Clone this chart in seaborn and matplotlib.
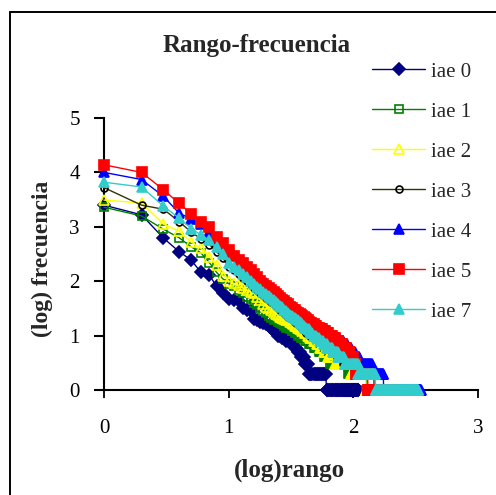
import numpy as np
import pandas as pd
import matplotlib
matplotlib.use("Agg")
import matplotlib.pyplot as plt
import seaborn as sns
from matplotlib.lines import Line2D

sns.set_style("ticks")
plt.rcParams['font.family'] = ['Liberation Serif', 'DejaVu Serif']

series_names = ["iae 0", "iae 1", "iae 2", "iae 3", "iae 4", "iae 5", "iae 7"]
x_ticks = [0, 1, 2, 3]
y_ticks = [0, 1, 2, 3, 4, 5]

# word frequencies of the top-ranked words (rank 1, 2, 3, ...)
# followed by the remaining ranks as (frequency, number of words) runs
iae0_head = [2500, 1660, 620, 350, 245, 145, 130, 80, 60, 47, 45, 43, 32, 30, 28,
             20, 19, 18, 17, 16, 15, 14, 12, 11, 10, 10, 9, 9, 8, 8, 8, 7, 7]
iae0_tail_freq = [6, 5, 4, 3, 2, 1]
iae0_tail_count = [2, 2, 3, 3, 17, 50]

iae1_head = [2290, 1580, 900, 630, 430, 330, 220, 145, 110, 90, 80, 69, 60, 52, 47,
             40, 36, 32, 28, 26, 23, 21, 19, 19, 18, 17, 16, 15, 14, 14]
iae1_tail_freq = [13, 12, 11, 10, 9, 8, 7, 6, 5, 4, 3, 2, 1]
iae1_tail_count = [1, 2, 2, 2, 3, 3, 4, 5, 5, 7, 26, 36, 104]

iae2_head = [3100, 2750, 1120, 830, 525, 400, 280, 200, 126, 100, 91, 85, 76, 69, 63,
             60, 52, 45, 38, 34, 32, 29, 27, 25, 24, 22, 21, 20, 19, 19, 18, 17, 16, 15, 15]
iae2_tail_freq = [14, 13, 12, 11, 10, 9, 8, 7, 6, 5, 4, 3, 2, 1]
iae2_tail_count = [1, 2, 2, 2, 2, 3, 3, 3, 4, 5, 8, 24, 31, 85]

iae3_head = [5250, 2500, 2100, 1250, 800, 600, 470, 350, 265, 185, 160, 135, 115, 100,
             87, 76, 68, 61, 55, 50, 46, 42, 39, 35, 33, 30, 28, 26, 24, 22, 21, 20, 19,
             18, 17, 16, 15, 15, 14, 13, 12]
iae3_tail_freq = [11, 10, 9, 8, 7, 6, 5, 4, 3, 2, 1]
iae3_tail_count = [3, 3, 4, 4, 5, 6, 7, 9, 24, 40, 90]

iae4_head = [10000, 7400, 3630, 1780, 1400, 1120, 800, 560, 430, 350, 300, 260, 228, 196,
             170, 150, 132, 115, 102, 92, 83, 76, 69, 64, 59, 55, 51, 48, 45, 42, 39, 36,
             34, 32, 30, 29, 27, 26, 24, 23, 22, 21, 20, 19, 18, 18, 17, 17, 16, 16, 15,
             15, 15, 14, 14]
iae4_tail_freq = [13, 12, 11, 10, 9, 8, 7, 6, 5, 4, 3, 2, 1]
iae4_tail_count = [2, 4, 4, 6, 6, 6, 6, 6, 8, 9, 29, 33, 173]

iae5_head = [13800, 10000, 4800, 2700, 1740, 1230, 1000, 660, 500, 380, 290, 245, 220,
             186, 158, 138, 117, 102, 89, 80, 74, 68, 63, 58, 53, 49, 46, 43, 40, 38, 34,
             32, 30, 29, 27, 26, 25, 24, 23, 22, 21, 20, 19, 18, 17, 17, 16, 16, 15, 15]
iae5_tail_freq = [14, 13, 12, 11, 10, 9, 8, 7, 6, 5, 4, 3, 2, 1]
iae5_tail_count = [3, 3, 3, 4, 4, 4, 5, 5, 6, 6, 6, 5, 26, 70]

iae7_head = [6600, 5400, 2400, 1450, 930, 710, 560, 420, 316, 214, 186, 158, 135, 117,
             102, 89, 79, 71, 64, 58, 53, 49, 45, 41, 38, 35, 33, 30, 28, 26, 24, 23, 22,
             21, 20, 19, 18, 17, 16, 15, 14, 14, 13, 13, 12]
iae7_tail_freq = [11, 10, 9, 8, 7, 6, 5, 4, 3, 2, 1]
iae7_tail_count = [2, 3, 3, 4, 4, 7, 7, 9, 25, 41, 181]

raw = {
    "iae 0": (iae0_head, iae0_tail_freq, iae0_tail_count),
    "iae 1": (iae1_head, iae1_tail_freq, iae1_tail_count),
    "iae 2": (iae2_head, iae2_tail_freq, iae2_tail_count),
    "iae 3": (iae3_head, iae3_tail_freq, iae3_tail_count),
    "iae 4": (iae4_head, iae4_tail_freq, iae4_tail_count),
    "iae 5": (iae5_head, iae5_tail_freq, iae5_tail_count),
    "iae 7": (iae7_head, iae7_tail_freq, iae7_tail_count),
}

frames = []
for name in series_names:
    head, tf, tc = raw[name]
    freqs = list(head)
    for f, n in zip(tf, tc):
        freqs.extend([f] * n)
    freqs = np.asarray(freqs, dtype=float)
    ranks = np.arange(1, len(freqs) + 1)
    frames.append(pd.DataFrame({"serie": name,
                                "logrango": np.log10(ranks),
                                "logfrec": np.log10(freqs)}))
df = pd.concat(frames, ignore_index=True)

styles = {
    "iae 0": dict(color="#000080", marker="D", markersize=6.5, markerfacecolor="#000080", markeredgecolor="#000080"),
    "iae 1": dict(color="#008000", marker="s", markersize=6.3, markerfacecolor="none", markeredgecolor="#008000"),
    "iae 2": dict(color="#FFFF00", marker="^", markersize=7.5, markerfacecolor="none", markeredgecolor="#FFFF00"),
    "iae 3": dict(color="#333300", marker="o", markersize=5.0, markerfacecolor="none", markeredgecolor="#000000"),
    "iae 4": dict(color="#0000FF", marker="^", markersize=7.8, markerfacecolor="#0000FF", markeredgecolor="#0000FF"),
    "iae 5": dict(color="#FF0000", marker="s", markersize=6.8, markerfacecolor="#FF0000", markeredgecolor="#FF0000"),
    "iae 7": dict(color="#33CCCC", marker="^", markersize=7.8, markerfacecolor="#33CCCC", markeredgecolor="#33CCCC"),
}

fig = plt.figure(figsize=(4.96, 4.95), dpi=100)
ax = fig.add_axes([104 / 496, 1 - 390 / 495, 374 / 496, 272 / 495])

for name in series_names:
    sub = df[df["serie"] == name]
    sns.lineplot(data=sub, x="logrango", y="logfrec", ax=ax, sort=False,
                 estimator=None, errorbar=None, label=name, linewidth=1.0,
                 markeredgewidth=1.2, clip_on=False, zorder=3, **styles[name])

handles, labels = ax.get_legend_handles_labels()
ax.get_legend().remove()

ax.set_xlim(0, 3)
ax.set_ylim(0, 5)
ax.set_xticks(x_ticks)
ax.set_yticks(y_ticks)
ax.set_xlabel("")
ax.set_ylabel("")
sns.despine(ax=ax)
for s in ["left", "bottom"]:
    ax.spines[s].set_linewidth(1.5)
    ax.spines[s].set_color("black")
    ax.spines[s].set_zorder(2)
ax.tick_params(axis="x", direction="out", length=6, width=1.3, pad=15,
               labelsize=15, colors="black")
ax.tick_params(axis="y", direction="out", length=7.5, width=1.5, pad=10,
               labelsize=15, colors="black")
ax.patch.set_alpha(0)

fig.text(0.518, 0.909, "Rango-frecuencia", ha="center", va="center",
         fontsize=18, fontweight="bold")
fig.text(0.583, 0.05, "(log)rango", ha="center", va="center",
         fontsize=18, fontweight="bold")
fig.text(0.085, 0.477, "(log) frecuencia", ha="center", va="center",
         rotation=90, fontsize=17, fontweight="bold")

fig.legend(handles, labels, loc="upper left", bbox_to_anchor=(372 / 496, 1 - 62 / 495),
           frameon=False, fontsize=15, handlelength=2.55, handletextpad=0.3,
           labelspacing=0.98, borderpad=0, borderaxespad=0, numpoints=1)

fig.add_artist(Line2D([10 / 496, 10 / 496], [0, 1 - 12 / 495], transform=fig.transFigure,
                      color="black", linewidth=1.4))
fig.add_artist(Line2D([10 / 496, 1], [1 - 12 / 495, 1 - 12 / 495], transform=fig.transFigure,
                      color="black", linewidth=1.4))

fig.savefig("out.png", dpi=100)
